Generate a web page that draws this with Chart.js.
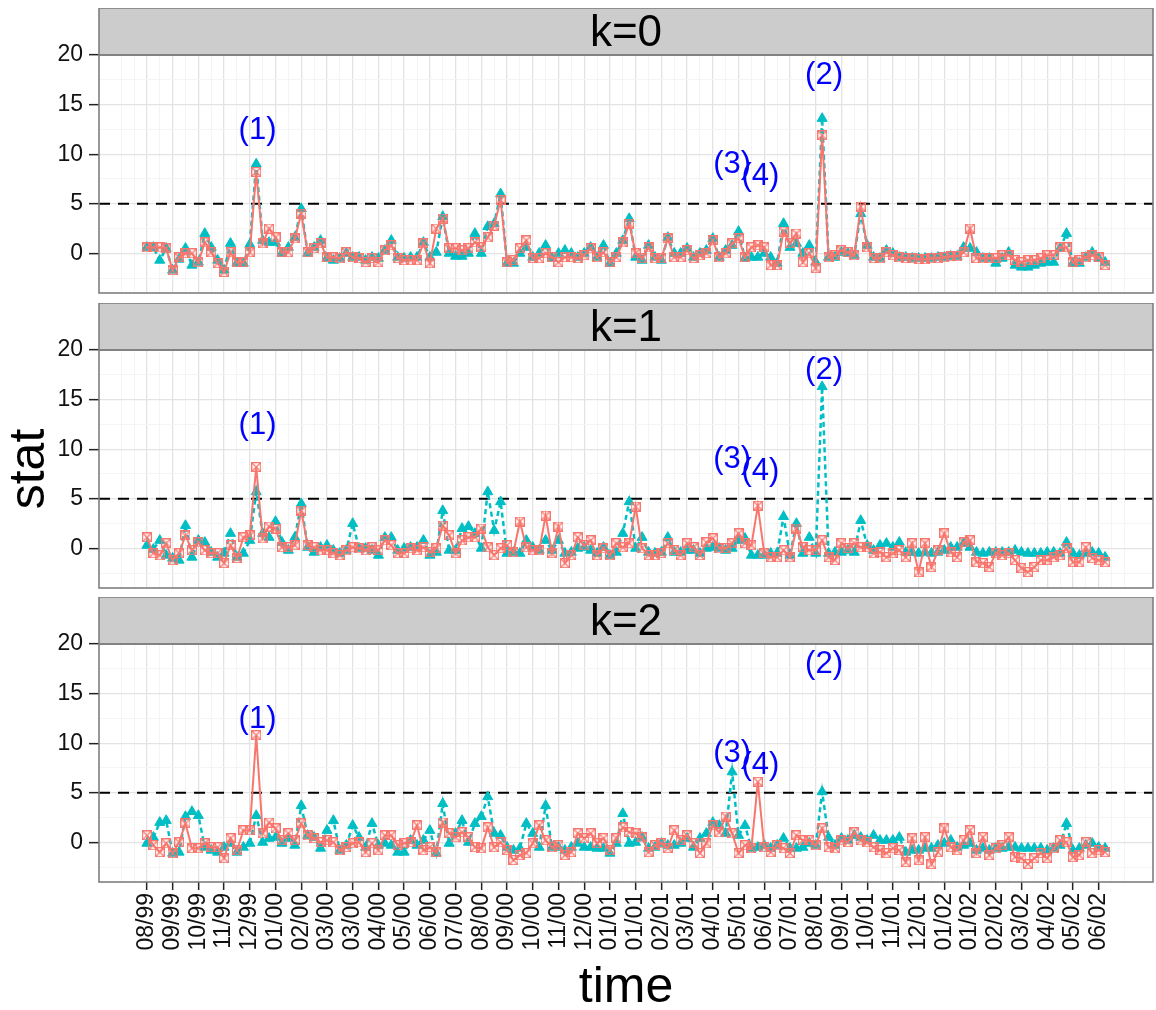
<!DOCTYPE html>
<html>
<head>
<meta charset="utf-8">
<script src="https://cdn.jsdelivr.net/npm/chart.js@4.4.1/dist/chart.umd.min.js"></script>
<style>
  body { margin: 0; width: 1156px; height: 1010px; overflow: hidden; background: #fff; position: relative; }
  canvas { position: absolute; left: 0; }
</style>
</head>
<body>
<canvas id="panel0" width="1160" height="309" style="top:8px"></canvas>
<canvas id="panel1" width="1160" height="309" style="top:303px"></canvas>
<canvas id="panel2" width="1160" height="421" style="top:597px"></canvas>
<script>
// weekly statistic, one row of panels per lag k
const facetLabels = ['k=0', 'k=1', 'k=2'];

// month labels, one every 4 weeks starting at week 0
const tickLabels = ['08/99', '09/99', '10/99', '11/99', '12/99', '01/00', '02/00', '03/00', '03/00',
  '04/00', '05/00', '06/00', '07/00', '08/00', '09/00', '10/00', '11/00', '12/00', '01/01', '01/01',
  '02/01', '03/01', '04/01', '05/01', '06/01', '07/01', '08/01', '09/01', '10/01', '11/01', '12/01',
  '01/02', '01/02', '02/02', '03/02', '04/02', '05/02', '06/02'];

const threshold = 5;

// numbered events, shown in every panel
const noteLabels = ['(1)', '(2)', '(3)', '(4)'];
const noteWeeks = [17.2, 105.3, 91, 95.4];
const noteStats = [12.4, 17.9, 9.0, 7.8];

// k = 0
const k0Solid = [0.6, 0.6, 0.6, 0.5, -1.7, -0.4, 0.0, 0.0, -0.9, 1.1,
  0.1, -1.0, -1.9, 0.1, -0.9, -0.9, 0.1, 8.2, 1.0, 2.5,
  1.6, 0.1, 0.1, 1.5, 4.0, 0.1, 0.5, 1.0, -0.4, -0.4,
  -0.5, 0.1, -0.4, -0.5, -0.9, -0.5, -0.9, 0.3, 0.8, -0.5,
  -0.7, -0.7, -0.7, 1.0, -1.0, 2.5, 3.5, 0.5, 0.5, 0.3,
  0.5, 1.1, 0.6, 1.6, 2.8, 5.4, -0.9, -0.7, 0.5, 1.3,
  -0.5, -0.5, 0.0, -0.4, -0.9, -0.4, -0.4, -0.5, -0.2, 0.5,
  -0.4, 0.1, -0.9, -0.4, 1.1, 3.0, 0.0, -0.5, 0.6, -0.5,
  -0.5, 1.5, -0.4, -0.4, 0.3, -0.5, -0.2, 0.0, 1.3, -0.4,
  0.0, 1.0, 1.5, -0.4, 0.6, 0.8, 0.6, -1.2, -1.2, 2.2,
  1.0, 2.0, -0.9, 0.0, -1.5, 11.9, -0.4, -0.2, 0.3, 0.1,
  -0.2, 4.7, 0.6, -0.5, -0.5, 0.1, -0.2, -0.4, -0.5, -0.5,
  -0.6, -0.6, -0.5, -0.5, -0.4, -0.3, -0.3, 0.1, 2.5, -0.5,
  -0.5, -0.5, -0.5, -0.2, -0.2, -0.7, -0.9, -0.7, -0.7, -0.5,
  -0.2, -0.2, 0.6, 0.6, -0.9, -0.7, -0.4, -0.2, -0.4, -1.2];
const k0Dotted = [0.6, 0.6, -0.7, 0.5, -1.7, -0.6, 0.5, -1.2, -0.9, 2.0,
  0.6, -0.7, -1.7, 1.0, -1.0, -1.0, 0.9, 9.0, 1.3, 1.1,
  1.1, 0.0, 0.6, 1.6, 4.5, 0.0, 0.6, 1.3, -0.5, -0.7,
  -0.5, 0.0, -0.4, -0.4, -0.7, -0.4, -0.5, 0.3, 1.3, -0.4,
  -0.5, -0.4, -0.4, 1.1, -0.4, 0.1, 3.7, 0.0, -0.3, -0.3,
  0.0, 2.0, 0.0, 2.7, 3.0, 6.0, -1.0, -1.0, 0.0, 0.6,
  -0.4, 0.0, 0.8, -0.5, 0.0, 0.3, 0.0, -0.4, 0.0, 0.6,
  -0.4, 0.8, -1.0, 0.0, 1.3, 3.5, -0.4, -0.7, 0.8, -0.4,
  -0.7, 1.6, 0.0, 0.0, 0.5, -0.4, 0.0, 0.3, 1.5, -0.4,
  0.3, 0.8, 2.2, -0.5, -0.4, -0.4, 0.0, -0.4, -1.0, 3.0,
  0.6, 1.0, 0.0, 0.8, -0.9, 13.6, -0.4, -0.4, 0.1, 0.0,
  -0.2, 4.0, 0.8, -0.4, -0.5, 0.3, 0.0, -0.4, -0.4, -0.5,
  -0.5, -0.5, -0.5, -0.4, -0.4, -0.3, -0.3, 0.6, 0.5, 0.1,
  -0.5, -0.5, -1.0, -0.5, 0.1, -1.2, -1.4, -1.4, -1.2, -1.0,
  -0.9, -0.9, 0.5, 2.0, -1.0, -1.0, -0.4, 0.1, -0.5, -0.9];

// k = 1
const k1Solid = [1.1, -0.5, -0.7, 0.5, -1.2, -0.5, 1.3, -0.2, 0.6, -0.2,
  -0.5, -0.5, -1.5, 0.3, -1.0, 1.1, 1.3, 8.2, 1.0, 2.2,
  2.0, 0.1, 0.1, 0.3, 3.8, 0.3, 0.1, -0.2, -0.2, -0.5,
  -0.7, -0.2, 0.1, 0.0, -0.2, 0.1, -0.2, 0.8, 0.3, -0.5,
  -0.5, 0.0, -0.2, 0.1, -0.4, 0.0, 2.3, 1.3, -0.5, 0.8,
  1.1, 1.1, 2.0, 0.1, -0.7, 0.0, 0.3, -0.4, 2.7, 0.1,
  -0.2, -0.2, 3.3, -0.5, 2.2, -1.5, -0.7, 1.1, 0.3, 0.8,
  -0.7, 0.0, -0.7, 0.5, 0.1, 0.5, 4.2, 0.0, -0.7, -0.7,
  -0.5, 0.5, -0.2, -0.7, 0.5, 0.1, -0.7, 0.6, 1.0, 0.0,
  0.0, 0.5, 1.5, 0.5, 0.3, 4.3, -0.5, -0.9, -0.9, -0.2,
  -0.9, 2.0, 0.1, -0.2, -0.2, 0.8, -0.9, -1.2, 0.5, 0.0,
  0.5, 0.1, 0.1, -0.5, -0.4, -0.9, -0.5, -0.2, -0.9, 0.5,
  -2.4, 0.5, -1.9, -0.2, 1.5, -0.4, -0.9, 0.6, 0.8, -1.4,
  -1.5, -1.9, -0.5, -0.7, -0.5, -1.2, -2.0, -2.4, -1.9, -1.2,
  -1.2, -0.9, -0.7, 0.0, -1.4, -1.4, 0.1, -1.0, -1.2, -1.4];
const k1Dotted = [0.3, -0.1, 0.8, -0.7, -1.0, -1.2, 2.3, -0.9, 0.8, 0.6,
  -0.4, -0.9, -0.5, 1.5, -0.9, -0.5, 0.8, 5.7, 1.5, 1.1,
  2.7, 0.6, -0.2, 1.1, 4.5, 0.1, -0.4, 0.1, 0.3, -0.2,
  -0.5, -0.2, 2.5, 0.0, 0.0, -0.2, -0.7, 1.1, 1.1, -0.2,
  0.0, 0.1, 0.1, 0.8, -0.7, -0.4, 3.8, -0.2, -0.2, 2.0,
  2.2, 1.5, 0.0, 5.7, 1.8, 4.7, -0.5, -0.4, -0.5, 0.8,
  0.1, -0.2, 0.8, -0.2, 0.8, -0.5, -0.4, 0.0, 0.1, -0.2,
  -0.5, 0.1, -0.7, -0.4, 1.5, 4.7, 0.0, 1.1, -0.4, -0.5,
  -0.4, 1.1, -0.4, -0.4, -0.2, -0.2, -0.5, 0.0, 0.1, 0.0,
  -0.2, 0.0, 0.8, 1.0, -0.7, -0.7, -0.7, -0.5, -0.5, 3.2,
  -0.7, 2.5, -0.5, 1.1, -0.5, 16.3, -0.5, -0.4, -0.4, -0.2,
  -0.4, 2.8, 0.3, -0.2, 0.3, 0.5, 0.1, 0.6, -0.4, -0.4,
  -0.5, -0.4, -0.5, -0.4, -0.2, 0.1, 0.1, 0.5, 0.1, -0.4,
  -0.5, -0.4, -0.4, -0.4, -0.4, -0.2, -0.4, -0.5, -0.5, -0.5,
  -0.4, -0.4, -0.5, 0.6, -0.5, -0.7, -0.5, -0.4, -0.5, -0.9];

// k = 2
const k2Solid = [0.7, -0.3, -1.0, -0.1, -1.1, 0.0, 1.9, -0.6, -0.6, -0.1,
  -0.5, -0.5, -1.6, 0.4, -0.8, 1.2, 1.2, 10.8, 0.9, 2.0,
  1.4, 0.2, 0.9, 0.2, 1.9, 0.7, 0.4, 0.0, 0.2, 0.0,
  -0.8, -0.5, -0.1, 0.0, -1.0, -0.1, -0.8, 0.7, 0.7, -0.3,
  -0.1, 0.0, 1.7, -0.8, -0.5, -1.0, 2.0, 0.9, 0.5, 1.0,
  0.5, -0.5, -0.6, 1.5, -0.5, 0.0, -0.8, -1.8, -1.3, -1.1,
  -0.1, 1.7, 0.2, -0.5, -0.3, -1.3, -1.0, 0.9, 0.4, 0.9,
  -0.1, 0.4, -0.8, 0.4, 1.5, 1.0, 0.9, 0.5, -1.0, -0.3,
  -0.1, -0.6, 1.2, 0.2, 0.7, -0.1, -1.1, -0.1, 1.7, 1.0,
  2.6, 0.9, -1.1, -0.3, -0.6, 6.1, -0.5, -1.0, -0.3, -0.6,
  -1.1, 0.7, 0.2, 0.2, -0.3, 1.4, -0.5, -0.6, 0.2, 0.0,
  1.0, 0.2, 0.0, -0.5, -0.8, -1.1, -0.6, -0.8, -2.0, 0.4,
  -1.8, 0.5, -2.2, -1.0, 1.4, -0.5, -0.8, 0.2, 1.2, -1.1,
  0.5, -1.3, -0.6, -0.3, 0.5, -1.5, -1.6, -2.2, -1.6, -1.1,
  -1.6, -0.6, 0.2, 0.0, -1.5, -1.3, 0.0, -1.1, -0.8, -1.0];
const k2Dotted = [-0.1, 0.5, 2.0, 2.2, -1.1, -1.0, 2.6, 3.1, 2.7, -0.5,
  -0.8, -1.0, -0.5, -0.1, -1.0, -0.5, -0.1, 2.7, 0.0, 0.4,
  0.5, -0.1, 0.4, -0.3, 3.7, 0.7, 0.5, -0.6, 1.2, 2.2,
  -0.8, -0.3, 1.7, 0.5, -0.5, 1.9, -0.3, -0.1, -0.3, -1.0,
  -1.0, 0.2, -0.3, 0.2, 1.2, -1.1, 3.9, -0.1, 0.9, 2.2,
  0.0, 1.9, 2.6, 4.6, 0.9, 0.7, -0.5, -0.8, -0.6, 1.9,
  0.9, -0.5, 3.7, -0.5, -0.5, -0.8, -0.5, -0.1, -0.5, -0.5,
  -0.6, -0.6, -1.1, -0.1, 2.9, -0.1, 0.0, 0.5, -0.6, -0.5,
  -0.1, -0.3, -0.3, -0.1, 0.4, -0.5, 0.4, 0.9, 2.0, 1.7,
  0.9, 7.1, 0.7, 1.7, -0.6, -0.5, -0.3, -0.6, -0.3, 0.4,
  -0.6, -0.6, -0.5, -0.1, -0.3, 5.1, 0.5, -0.3, 0.4, 0.2,
  0.7, 0.5, 0.2, 0.7, 0.2, 0.2, 0.2, 0.5, -1.0, -0.8,
  -0.8, -0.6, -0.6, -0.3, -0.1, 0.2, -0.5, -0.3, -0.1, -0.8,
  -0.6, -0.8, -0.6, -0.6, -0.5, -0.5, -0.6, -0.6, -0.6, -0.6,
  -0.8, -0.6, -0.3, 1.9, -0.8, -0.6, -0.3, -0.1, -0.5, -0.6];

const solidSeries = [k0Solid, k1Solid, k2Solid];
const dottedSeries = [k0Dotted, k1Dotted, k2Dotted];

const FONT = '"Liberation Sans", Arial, sans-serif';
const STRIP_H = 47;
const PLOT_H = 238;
const AXIS_W = 99;
const RED = '#F8766D';
const TEAL = '#00BFC4';

// grid every 2 weeks (minor between the 4-week majors), and every 2.5 on y
const gridWeeks = [];
for (let w = -4; w <= 152; w += 2) gridWeeks.push(w);
const gridStats = [-2.5, 0, 2.5, 5, 7.5, 10, 12.5, 15, 17.5, 20];

const isMajorWeek = w => w >= 0 && w % 4 === 0 && w / 4 < tickLabels.length;
const isMajorStat = v => v % 5 === 0;

// square with a cross inside, for the solid series
function squareCross(color) {
  const c = document.createElement('canvas');
  c.width = c.height = 10;
  const g = c.getContext('2d');
  g.strokeStyle = color;
  g.lineWidth = 1.2;
  g.strokeRect(0.6, 0.6, 8.8, 8.8);
  g.beginPath();
  g.moveTo(1, 1); g.lineTo(9, 9);
  g.moveTo(9, 1); g.lineTo(1, 9);
  g.stroke();
  return c;
}
const squareMarker = squareCross(RED);

const toPoints = values => values.map((v, i) => ({ x: i, y: v }));

// threshold line, numbered notes, panel frame and facet strip
const panelDecor = {
  id: 'panelDecor',
  beforeDatasetsDraw(chart) {
    const { ctx, chartArea: a, scales: { y } } = chart;
    const py = y.getPixelForValue(threshold);
    ctx.save();
    ctx.strokeStyle = '#000';
    ctx.lineWidth = 2.2;
    ctx.setLineDash([11, 8]);
    ctx.beginPath();
    ctx.moveTo(a.left, py);
    ctx.lineTo(a.right, py);
    ctx.stroke();
    ctx.restore();
  },
  afterDatasetsDraw(chart) {
    const { ctx, scales: { x, y } } = chart;
    ctx.save();
    ctx.font = '31px ' + FONT;
    ctx.fillStyle = '#0000FF';
    ctx.textAlign = 'center';
    ctx.textBaseline = 'middle';
    noteLabels.forEach((t, i) => {
      ctx.fillText(t, x.getPixelForValue(noteWeeks[i]), y.getPixelForValue(noteStats[i]));
    });
    ctx.restore();
  },
  afterDraw(chart, args, opts) {
    const { ctx, chartArea: a } = chart;
    const w = a.right - a.left;
    ctx.save();
    ctx.fillStyle = '#CCCCCC';
    ctx.fillRect(a.left, a.top - STRIP_H, w, STRIP_H);
    ctx.strokeStyle = '#7F7F7F';
    ctx.lineWidth = 1.6;
    ctx.strokeRect(a.left, a.top - STRIP_H, w, STRIP_H);
    ctx.strokeRect(a.left, a.top, w, a.bottom - a.top);
    ctx.fillStyle = '#000';
    ctx.font = '44px ' + FONT;
    ctx.textAlign = 'center';
    ctx.textBaseline = 'middle';
    ctx.fillText(opts.strip, (a.left + a.right) / 2, a.top - STRIP_H / 2 + 2);
    ctx.restore();
  }
};

function drawPanel(k) {
  const canvas = document.getElementById('panel' + k);
  const bottom = k === facetLabels.length - 1;
  // whatever is left below the plot belongs to the x axis
  const xAxisH = canvas.height - STRIP_H - PLOT_H;

  new Chart(canvas.getContext('2d'), {
    type: 'line',
    data: {
      datasets: [{
        data: toPoints(solidSeries[k]),
        borderColor: RED,
        borderWidth: 2,
        pointStyle: squareMarker,
        pointRadius: 5,
        tension: 0
      }, {
        data: toPoints(dottedSeries[k]),
        borderColor: TEAL,
        borderWidth: 2.5,
        borderDash: [5, 3.5],
        pointStyle: 'triangle',
        pointRadius: 5.8,
        pointBackgroundColor: TEAL,
        pointBorderColor: TEAL,
        pointBorderWidth: 1,
        tension: 0
      }]
    },
    options: {
      responsive: false,
      animation: false,
      devicePixelRatio: 1,
      layout: { padding: { top: STRIP_H, left: 0, right: 0, bottom: 0 } },
      plugins: {
        legend: { display: false },
        tooltip: { enabled: false },
        panelDecor: { strip: facetLabels[k] }
      },
      scales: {
        x: {
          type: 'linear',
          min: -7.45,
          max: 156.45,
          afterBuildTicks: axis => { axis.ticks = gridWeeks.map(v => ({ value: v })); },
          afterFit: axis => { axis.height = xAxisH; },
          border: { display: false },
          grid: {
            color: c => isMajorWeek(c.tick.value) ? '#E3E3E3' : '#F4F4F4',
            lineWidth: c => isMajorWeek(c.tick.value) ? 1.3 : 1,
            drawTicks: bottom,
            tickLength: 8,
            tickWidth: 1.5,
            tickColor: c => isMajorWeek(c.tick.value) ? '#222' : 'rgba(0,0,0,0)'
          },
          ticks: {
            display: bottom,
            autoSkip: false,
            minRotation: 90,
            maxRotation: 90,
            padding: 3,
            color: '#111',
            font: { family: FONT, size: 23 },
            callback: v => isMajorWeek(v) ? tickLabels[v / 4] : ''
          },
          title: {
            display: bottom,
            text: 'time',
            color: '#000',
            font: { family: FONT, size: 50 },
            padding: { top: 0, bottom: 0 }
          }
        },
        y: {
          type: 'linear',
          min: -4,
          max: 20,
          afterBuildTicks: axis => { axis.ticks = gridStats.map(v => ({ value: v })); },
          afterFit: axis => { axis.width = AXIS_W; },
          border: { display: false },
          grid: {
            color: c => isMajorStat(c.tick.value) ? '#E3E3E3' : '#F4F4F4',
            lineWidth: c => isMajorStat(c.tick.value) ? 1.3 : 1,
            tickLength: 10,
            tickWidth: 1.5,
            tickColor: c => isMajorStat(c.tick.value) ? '#222' : 'rgba(0,0,0,0)'
          },
          ticks: {
            autoSkip: false,
            padding: 6,
            color: '#111',
            font: { family: FONT, size: 23 },
            callback: v => isMajorStat(v) ? String(v) : ''
          },
          title: {
            display: k === 1,
            text: 'stat',
            color: '#000',
            font: { family: FONT, size: 50 },
            padding: { top: 0, bottom: 0 }
          }
        }
      }
    },
    plugins: [panelDecor]
  });
}

facetLabels.forEach((_, k) => drawPanel(k));
</script>
</body>
</html>
